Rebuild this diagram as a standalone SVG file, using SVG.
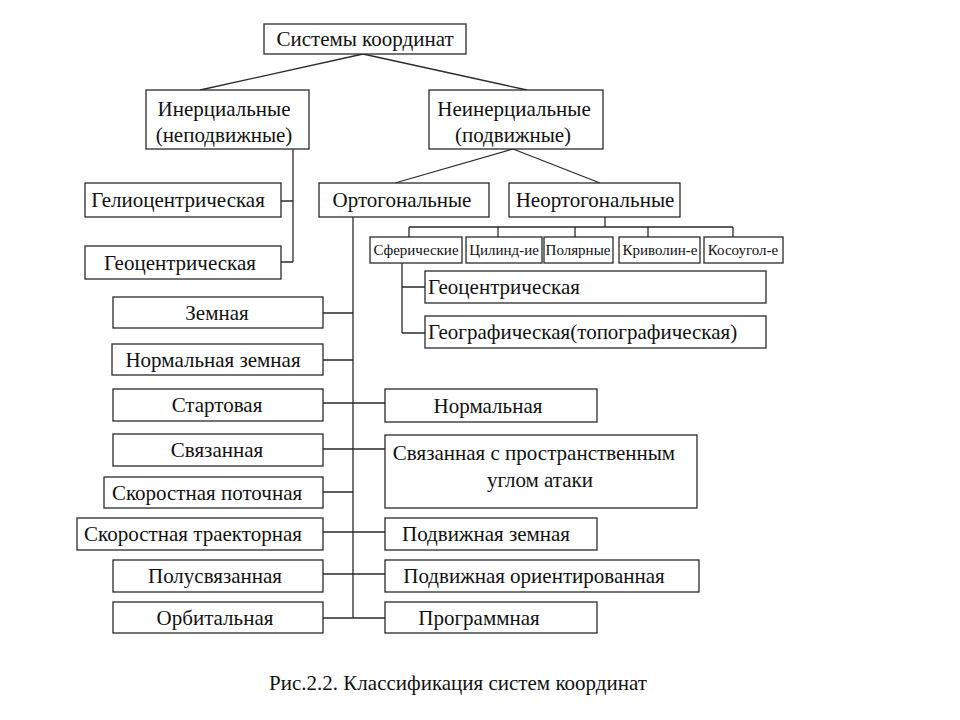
<svg xmlns="http://www.w3.org/2000/svg" width="960" height="720" viewBox="0 0 960 720">
<style>
  rect { fill: #ffffff; stroke: #2a2a2a; stroke-width: 1.3; }
  text { font-family: "Liberation Serif", "Times New Roman", serif; font-size: 21px; fill: #111111; text-anchor: middle; }
  text.s { font-size: 15px; }
  text.l { text-anchor: start; }
  #connectors path { fill: none; stroke: #2a2a2a; stroke-width: 1.3; }
</style>
<rect x="0" y="0" width="960" height="720" style="fill:#ffffff;stroke:none"/>

<g id="connectors">
  <path d="M363,54 L200,90 M363,54 L527,90"/>
  <path d="M293,149 V262 M281,201 H293 M281,262 H293"/>
  <path d="M513,149 L395,183 M513,149 L600,183"/>
  <path d="M353,217 V618"/>
  <path d="M323,313 H353 M323,360 H353 M323,492 H353"/>
  <path d="M323,403 H385 M323,449 H385 M323,532 H385 M323,574 H385 M323,618 H385"/>
  <path d="M605,217 V227 M409,227 H733 M409,227 V237 M498,227 V237 M575,227 V237 M648,227 V237 M733,227 V237"/>
  <path d="M402,263 V333 M402,287 H425 M402,333 H425"/>
</g>

<g id="n-root"><rect x="264" y="24" width="202" height="30"/><text x="365" y="46">Системы координат</text></g>

<g id="n-inertial"><rect x="146" y="90" width="163" height="59"/><text x="224" y="116">Инерциальные</text><text x="224" y="142">(неподвижные)</text></g>
<g id="n-noninertial"><rect x="429" y="90" width="174" height="59"/><text x="514" y="116">Неинерциальные</text><text x="513" y="142">(подвижные)</text></g>

<g id="n-helio"><rect x="85" y="183" width="196" height="34"/><text x="178" y="207">Гелиоцентрическая</text></g>
<g id="n-geo-left"><rect x="85" y="246" width="196" height="33"/><text x="180" y="270">Геоцентрическая</text></g>

<g id="n-ortho"><rect x="319" y="183" width="170" height="34"/><text x="402" y="207">Ортогональные</text></g>
<g id="n-nonortho"><rect x="509" y="183" width="171" height="34"/><text x="595" y="207">Неортогональные</text></g>

<g id="n-spher"><rect x="370" y="237" width="92" height="26"/><text class="s" x="416" y="255">Сферические</text></g>
<g id="n-cyl"><rect x="466" y="237" width="76" height="26"/><text class="s" x="504" y="255">Цилинд-ие</text></g>
<g id="n-polar"><rect x="544" y="237" width="69" height="26"/><text class="s" x="578" y="255">Полярные</text></g>
<g id="n-curv"><rect x="619" y="237" width="81" height="26"/><text class="s" x="660" y="255">Криволин-е</text></g>
<g id="n-oblique"><rect x="704" y="237" width="79" height="26"/><text class="s" x="743" y="255">Косоугол-е</text></g>

<g id="n-geo-right"><rect x="425" y="271" width="341" height="32"/><text class="l" x="428" y="294">Геоцентрическая</text></g>
<g id="n-geograph"><rect x="425" y="316" width="341" height="32"/><text class="l" x="428" y="339">Географическая(топографическая)</text></g>

<g id="n-zemnaya"><rect x="113" y="297" width="210" height="31"/><text x="217" y="320">Земная</text></g>
<g id="n-norm-zemn"><rect x="112" y="344" width="211" height="31"/><text x="213" y="367">Нормальная земная</text></g>
<g id="n-start"><rect x="113" y="389" width="210" height="32"/><text x="217" y="412">Стартовая</text></g>
<g id="n-svyaz"><rect x="113" y="434" width="210" height="32"/><text x="217" y="457">Связанная</text></g>
<g id="n-skor-pot"><rect x="104" y="477" width="219" height="31"/><text x="207" y="500">Скоростная поточная</text></g>
<g id="n-skor-traek"><rect x="77" y="518" width="246" height="32"/><text x="193" y="541">Скоростная траекторная</text></g>
<g id="n-polusv"><rect x="113" y="560" width="210" height="32"/><text x="215" y="583">Полусвязанная</text></g>
<g id="n-orbit"><rect x="113" y="602" width="210" height="31"/><text x="215" y="625">Орбитальная</text></g>

<g id="n-normal"><rect x="385" y="389" width="212" height="33"/><text x="488" y="413">Нормальная</text></g>
<g id="n-svyaz-ugol"><rect x="385" y="435" width="312" height="73"/><text x="534" y="460">Связанная с пространственным</text><text x="540" y="487">углом атаки</text></g>
<g id="n-podv-zemn"><rect x="385" y="518" width="212" height="32"/><text x="486" y="541">Подвижная земная</text></g>
<g id="n-podv-orient"><rect x="385" y="560" width="314" height="32"/><text x="534" y="583">Подвижная ориентированная</text></g>
<g id="n-program"><rect x="385" y="602" width="212" height="31"/><text x="479" y="625">Программная</text></g>

<text x="458" y="690">Рис.2.2. Классификация систем координат</text>
</svg>
